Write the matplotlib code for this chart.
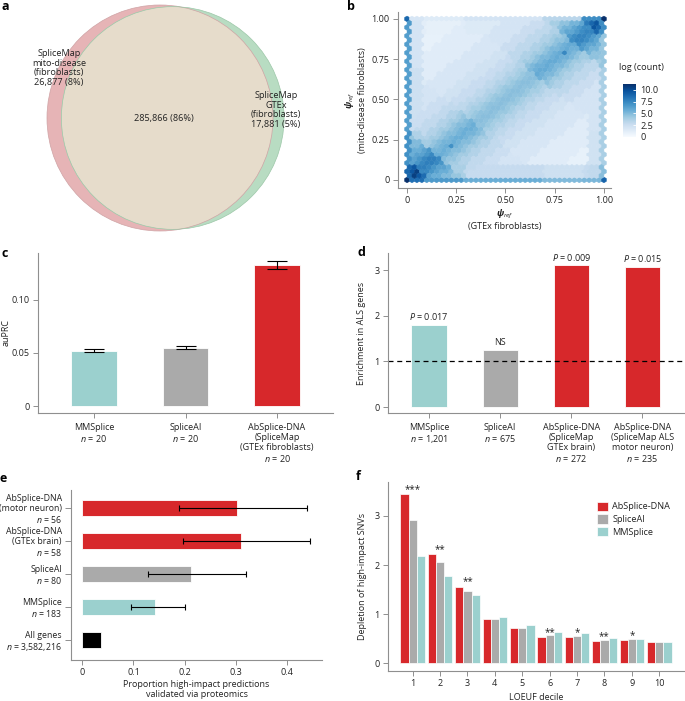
import numpy as np
import matplotlib
matplotlib.use('Agg')
import matplotlib.pyplot as plt
from matplotlib.patches import Circle

FONT = 'Open Sans'
plt.rcParams['font.family'] = [FONT, 'DejaVu Sans']
plt.rcParams['mathtext.fontset'] = 'custom'
plt.rcParams['mathtext.rm'] = FONT
plt.rcParams['mathtext.it'] = FONT + ':style=italic'
plt.rcParams['mathtext.bf'] = FONT + ':style=italic:weight=bold'
plt.rcParams['font.size'] = 6.5
TXT = '#222222'
SP = '#8f8f8f'
for k in ['text.color', 'axes.labelcolor', 'xtick.labelcolor', 'ytick.labelcolor']:
    plt.rcParams[k] = TXT
for k in ['xtick.color', 'ytick.color', 'axes.edgecolor']:
    plt.rcParams[k] = SP
plt.rcParams['axes.linewidth'] = 0.8

RED = '#d7282b'
GREY = '#aaaaaa'
TEAL = '#9bd0ce'

# ---------------- data ----------------
# a: Venn diagram
venn_sets = ['SpliceMap\nmito-disease\n(fibroblasts)', 'SpliceMap\nGTEx\n(fibroblasts)']
venn_only = [26877, 17881]
venn_shared = 285866

# b: hexbin, log(count) per cell
hex_nx, hex_ny = 40, 19
along_edges = [0.06, 0.15, 0.35, 0.65, 0.85, 0.94]                          # (x+y)/2 bins
offset_edges = [0.02, 0.05, 0.08, 0.11, 0.15, 0.2, 0.27, 0.35, 0.5, 0.7]    # |x-y| bins
diag_table = [
    [10.5, 9.5, 8.6, 8.0, 7.5, 7.0, 6.5, 6.0, 5.0, 4.0, 3.0],
    [7.8, 7.4, 6.8, 6.2, 5.6, 5.0, 4.4, 3.8, 3.2, 2.6, 2.0],
    [5.6, 5.3, 4.9, 4.5, 4.0, 3.5, 3.0, 2.5, 2.0, 1.5, 1.1],
    [4.8, 4.6, 4.3, 3.9, 3.5, 3.1, 2.7, 2.2, 1.8, 1.3, 0.9],
    [5.8, 5.5, 5.1, 4.6, 4.1, 3.6, 3.1, 2.6, 2.0, 1.5, 1.1],
    [7.6, 7.2, 6.6, 6.0, 5.3, 4.6, 3.9, 3.2, 2.6, 2.0, 1.5],
    [9.6, 8.8, 8.0, 7.2, 6.5, 5.8, 5.0, 4.2, 3.2, 2.2, 1.5],
]
edge_bins = [0.02, 0.1, 0.3, 0.7, 0.9, 0.99]     # position along an edge
edge_left = [11.5, 8.8, 7.0, 6.4, 6.4, 6.6, 8.8]
edge_bottom = [11.5, 8.5, 6.6, 5.6, 5.0, 5.2, 9.0]
edge_right = [9.0, 4.8, 3.8, 3.8, 4.4, 7.2, 11.5]
edge_top = [8.8, 1.8, 1.4, 2.0, 3.2, 7.2, 11.5]
near_left = [8.5, 6.5, 3.6, 2.4, 2.0, 2.0, 3.0]   # cells next to an edge
near_bottom = [8.5, 6.5, 3.8, 2.8, 2.4, 2.8, 5.0]
near_right = [5.0, 3.0, 2.2, 2.0, 2.6, 5.0, 8.5]
near_top = [3.0, 1.2, 1.0, 1.5, 2.5, 5.0, 8.5]
hex_spots = [(0.22, 0.20, 7.0), (0.80, 0.79, 7.4)]
cbar_ticks = [0, 2.5, 5.0, 7.5, 10.0]

# c: auPRC
c_models = ['MMSplice', 'SpliceAI', 'AbSplice-DNA\n(SpliceMap\n(GTEx fibroblasts)']
c_n = [20, 20, 20]
c_auprc = [0.0522, 0.0550, 0.1333]
c_low = [0.0507, 0.0535, 0.1295]
c_high = [0.0538, 0.0563, 0.1368]
c_colors = [TEAL, GREY, RED]

# d: enrichment in ALS genes
d_models = ['MMSplice', 'SpliceAI', 'AbSplice-DNA\n(SpliceMap\nGTEx brain)',
            'AbSplice-DNA\n(SpliceMap ALS\nmotor neuron)']
d_n = ['1,201', '675', '272', '235']
d_enrich = [1.80, 1.25, 3.11, 3.07]
d_pval = ['0.017', 'NS', '0.009', '0.015']
d_colors = [TEAL, GREY, RED, RED]

# e: proteomics validation (bottom to top)
e_models = ['All genes', 'MMSplice', 'SpliceAI', 'AbSplice-DNA\n(GTEx brain)',
            'AbSplice-DNA\n(motor neuron)']
e_n = ['3,582,216', '183', '80', '58', '56']
e_prop = [0.036, 0.142, 0.212, 0.309, 0.303]
e_low = [np.nan, 0.095, 0.129, 0.196, 0.189]
e_high = [np.nan, 0.201, 0.319, 0.445, 0.439]
e_colors = ['black', TEAL, GREY, RED, RED]

# f: depletion by LOEUF decile
f_decile = [1, 2, 3, 4, 5, 6, 7, 8, 9, 10]
f_absplice = [3.44, 2.23, 1.56, 0.91, 0.71, 0.54, 0.54, 0.45, 0.47, 0.43]
f_spliceai = [2.92, 2.06, 1.47, 0.90, 0.71, 0.58, 0.56, 0.48, 0.50, 0.43]
f_mmsplice = [2.19, 1.77, 1.38, 0.94, 0.78, 0.63, 0.61, 0.51, 0.50, 0.43]
f_stars = ['***', '**', '**', '', '', '**', '*', '**', '*', '']

# ---------------- figure ----------------
W, H = 685, 701
fig = plt.figure(figsize=(W / 100, H / 100), dpi=100)


def ax_px(x0, y0, x1, y1):
    return fig.add_axes([x0 / W, 1 - y1 / H, (x1 - x0) / W, (y1 - y0) / H])


def style(ax):
    for s in ['top', 'right']:
        ax.spines[s].set_visible(False)
    ax.tick_params(length=3.5, width=0.7, pad=2.5)


def tight_lines(labels, ls=1.12):
    for t in labels:
        t.set_linespacing(ls)


def plabel(x, y, s):
    fig.text(x / W, 1 - y / H, s, fontsize=9, fontweight='bold', color='black',
             va='center', ha='left')


# ---- a: Venn ----
ax = ax_px(0, 0, 340, 235)
A1 = venn_only[0] + venn_shared
A2 = venn_only[1] + venn_shared
r1 = 1.0
r2 = np.sqrt(A2 / A1)
target = np.pi * venn_shared / A1


def lens(d):
    if d <= abs(r1 - r2):
        return np.pi * min(r1, r2) ** 2
    a1 = r1 ** 2 * np.arccos((d * d + r1 * r1 - r2 * r2) / (2 * d * r1))
    a2 = r2 ** 2 * np.arccos((d * d + r2 * r2 - r1 * r1) / (2 * d * r2))
    a3 = 0.5 * np.sqrt((-d + r1 + r2) * (d + r1 - r2) * (d - r1 + r2) * (d + r1 + r2))
    return a1 + a2 - a3


lo_, hi_ = abs(r1 - r2) + 1e-9, r1 + r2
for _ in range(80):
    mid = 0.5 * (lo_ + hi_)
    if lens(mid) > target:
        lo_ = mid
    else:
        hi_ = mid
dist = 0.5 * (lo_ + hi_)
scale = 113.0
ax.set_xlim(-160 / scale, 180 / scale)
ax.set_ylim(-(235 - 118) / scale, 118 / scale)
ax.axis('off')
c1 = Circle((0, 0), r1, facecolor='#e6b4b6', edgecolor='none')
c2 = Circle((dist, 0), r2, facecolor='#b8dcc2', edgecolor='none')
ax.add_patch(c1)
ax.add_patch(c2)
inter = Circle((dist, 0), r2, facecolor='#e6dccb', edgecolor='none')
ax.add_patch(inter)
inter.set_clip_path(c1)
ax.add_patch(Circle((0, 0), r1, facecolor='none', edgecolor='#cfa3a5', lw=0.5))
ax.add_patch(Circle((dist, 0), r2, facecolor='none', edgecolor='#9cc7a8', lw=0.5))
total = sum(venn_only) + venn_shared
fmt = lambda v: f'{v:,} ({round(100 * v / total)}%)'
ax.text(59 / 340, 1 - 68 / 235, venn_sets[0] + '\n' + fmt(venn_only[0]),
        transform=ax.transAxes, ha='center', va='center', fontsize=6.6, linespacing=1.12)
ax.text(164 / 340, 1 - 118 / 235, fmt(venn_shared), transform=ax.transAxes,
        ha='center', va='center', fontsize=6.6)
ax.text(276 / 340, 1 - 110 / 235, venn_sets[1] + '\n' + fmt(venn_only[1]),
        transform=ax.transAxes, ha='center', va='center', fontsize=6.6, linespacing=1.12)
plabel(1, 6, 'a')

# ---- b: hexbin ----
ax = ax_px(398, 12, 611, 188)
sx, sy = 1 / hex_nx, 1 / hex_ny
cx, cy = [], []
for i in range(hex_nx + 1):
    for j in range(hex_ny + 1):
        cx.append(i * sx)
        cy.append(j * sy)
for i in range(hex_nx):
    for j in range(hex_ny):
        cx.append((i + 0.5) * sx)
        cy.append((j + 0.5) * sy)
cx = np.array(cx)
cy = np.array(cy)
vals = np.empty(len(cx))
for k, (x, y) in enumerate(zip(cx, cy)):
    if y < 0.25 * sy:
        v = edge_bottom[np.digitize(x, edge_bins)]
    elif y > 1 - 0.25 * sy:
        v = edge_top[np.digitize(x, edge_bins)]
    elif x < 0.75 * sx:
        v = edge_left[np.digitize(y, edge_bins)]
    elif x > 1 - 0.75 * sx:
        v = edge_right[np.digitize(y, edge_bins)]
    else:
        v = diag_table[np.digitize((x + y) / 2, along_edges)][np.digitize(abs(x - y), offset_edges)]
        if x < 0.08:
            v = max(v, near_left[np.digitize(y, edge_bins)])
        if y < 0.08:
            v = max(v, near_bottom[np.digitize(x, edge_bins)])
        if x > 0.92:
            v = max(v, near_right[np.digitize(y, edge_bins)])
        if y > 0.92:
            v = max(v, near_top[np.digitize(x, edge_bins)])
    vals[k] = v
for (px, py, pv) in hex_spots:
    k = np.argmin((cx - px) ** 2 + (cy - py) ** 2)
    vals[k] = pv
hb = ax.hexbin(cx, cy, C=vals, gridsize=(hex_nx, hex_ny), extent=(0, 1, 0, 1),
               reduce_C_function=np.mean, cmap='Blues', vmin=0, vmax=11.2,
               linewidths=0.35, edgecolors='face')
ax.set_xlim(-0.046, 1.036)
ax.set_ylim(-0.05, 1.043)
style(ax)
ticks = [0, 0.25, 0.5, 0.75, 1.0]
tl = ['0', '0.25', '0.50', '0.75', '1.00']
ax.set_xticks(ticks, tl)
ax.set_yticks(ticks, tl)
ax.set_xlabel('$\\mathbf{\\psi}_{ref}$\n(GTEx fibroblasts)', labelpad=2, linespacing=1.1)
ax.set_ylabel('$\\mathbf{\\psi}_{ref}$\n(mito-disease fibroblasts)', labelpad=3, linespacing=1.15)
cax = ax_px(623, 84, 636, 137)
cb = fig.colorbar(hb, cax=cax, ticks=cbar_ticks)
cb.ax.set_yticklabels(['0', '2.5', '5.0', '7.5', '10.0'])
cb.outline.set_visible(False)
cb.ax.tick_params(length=2.5, width=0.6, color='white', direction='in', pad=3, labelsize=6.6)
fig.text(641 / W, 1 - 67 / H, 'log (count)', ha='center', va='center', fontsize=6.6)
plabel(347, 6, 'b')

# ---- c ----
ax = ax_px(38, 253, 333, 413)
xc = np.arange(len(c_models))
ax.bar(xc, c_auprc, width=0.5, color=c_colors, edgecolor='white', linewidth=0.6)
ca = np.array(c_auprc)
ax.errorbar(xc, ca, yerr=[ca - np.array(c_low), np.array(c_high) - ca], fmt='none',
            ecolor='black', elinewidth=0.8, capsize=7.5, capthick=0.8)
ax.set_xlim(-0.61, 2.61)
ax.set_ylim(-0.0066, 0.1443)
style(ax)
ax.set_yticks([0, 0.05, 0.10], ['0', '0.05', '0.10'])
ax.set_xticks(xc, [f'{m}\n$n$ = {n}' for m, n in zip(c_models, c_n)])
tight_lines(ax.get_xticklabels())
ax.tick_params(axis='x', pad=4)
ax.set_ylabel('auPRC', labelpad=1)
plabel(2, 254, 'c')

# ---- d ----
ax = ax_px(388, 253, 685, 413)
xd = np.arange(len(d_models))
ax.bar(xd, d_enrich, width=0.5, color=d_colors, edgecolor='white', linewidth=0.6)
for x, v, p in zip(xd, d_enrich, d_pval):
    s = 'NS' if p == 'NS' else f'$P$ = {p}'
    ax.annotate(s, (x, v), xytext=(0, 2), textcoords='offset points', ha='center', va='bottom')
ax.axhline(1, color='black', lw=0.9, ls=(0, (4, 3)))
ax.set_xlim(-0.58, 3.6)
ax.set_ylim(-0.13, 3.38)
style(ax)
ax.set_yticks([0, 1, 2, 3])
ax.set_xticks(xd, [f'{m}\n$n$ = {n}' for m, n in zip(d_models, d_n)])
tight_lines(ax.get_xticklabels())
ax.tick_params(axis='x', pad=4)
ax.set_ylabel('Enrichment in ALS genes', labelpad=6)
plabel(357, 252, 'd')

# ---- e ----
ax = ax_px(71, 490, 322, 660)
ye = np.arange(len(e_models))
ep = np.array(e_prop)
ax.barh(ye, ep, height=0.5, color=e_colors, edgecolor='white', linewidth=0.6)
el, eh = np.array(e_low), np.array(e_high)
ax.errorbar(ep, ye, xerr=[ep - el, eh - ep], fmt='none', ecolor='black',
            elinewidth=0.8, capsize=2.2, capthick=0.8)
ax.set_xlim(-0.022, 0.468)
ax.set_ylim(-0.6, 4.55)
style(ax)
ax.set_xticks([0, 0.1, 0.2, 0.3, 0.4], ['0', '0.1', '0.2', '0.3', '0.4'])
ax.set_yticks(ye, [f'{m}\n$n$ = {n}' for m, n in zip(e_models, e_n)])
tight_lines(ax.get_yticklabels())
ax.tick_params(axis='y', length=4.5, labelsize=6.3, pad=2)
ax.set_xlabel('Proportion high-impact predictions\nvalidated via proteomics', labelpad=2,
              linespacing=1.1)
plabel(0, 479, 'e')

# ---- f ----
ax = ax_px(388, 482, 685, 671)
xf = np.array(f_decile)
w = 0.3
ax.bar(xf - w, f_absplice, width=w, color=RED, edgecolor='white', linewidth=0.5, label='AbSplice-DNA')
ax.bar(xf, f_spliceai, width=w, color=GREY, edgecolor='white', linewidth=0.5, label='SpliceAI')
ax.bar(xf + w, f_mmsplice, width=w, color=TEAL, edgecolor='white', linewidth=0.5, label='MMSplice')
for x, v, s in zip(xf, f_absplice, f_stars):
    if s:
        ax.annotate(s, (x, v), xytext=(0, 1.5), textcoords='offset points', ha='center',
                    va='baseline', fontsize=7)
ax.set_xlim(0.1, 10.94)
ax.set_ylim(-0.157, 3.69)
style(ax)
ax.set_xticks(xf)
ax.set_yticks([0, 1, 2, 3])
ax.set_xlabel('LOEUF decile', labelpad=3)
ax.set_ylabel('Depletion of high-impact SNVs', labelpad=5)
ax.legend(loc='upper left', bbox_to_anchor=(0.703, 0.896), frameon=False, fontsize=6.6,
          handlelength=1.2, handleheight=1.2, labelspacing=0.3, handletextpad=0.5,
          borderpad=0, borderaxespad=0)
plabel(356, 477, 'f')

fig.savefig('out.png', dpi=100)
